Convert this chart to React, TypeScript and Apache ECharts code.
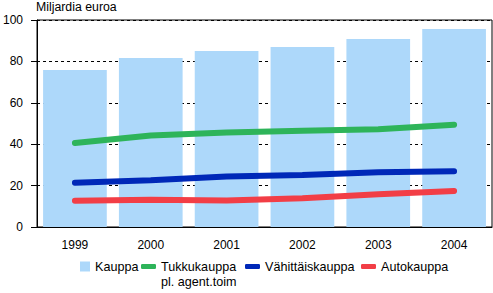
import React, { useEffect, useRef } from "react";
import * as echarts from "echarts";

const years = ["1999", "2000", "2001", "2002", "2003", "2004"];
const kauppa = [75.8, 81.6, 85.0, 87.0, 90.8, 95.7];
const tukkukauppa = [40.6, 44.2, 45.7, 46.5, 47.2, 49.4];
const vahittaiskauppa = [21.4, 22.6, 24.4, 25.1, 26.4, 26.9];
const autokauppa = [12.7, 13.2, 12.8, 13.9, 15.8, 17.4];
const yTicks = { min: 0, max: 100, interval: 20 };

const FONT = 'Arial, "Liberation Sans", sans-serif';
const C_BAR = "#ADD8FA";
const C_GREEN = "#2EB45A";
const C_BLUE = "#0028B8";
const C_RED = "#F23E46";

export default function App() {
  const ref = useRef<HTMLDivElement>(null);
  useEffect(() => {
    if (!ref.current) return;
    const chart = echarts.init(ref.current, undefined, { renderer: "svg" });
    const txt = { color: "#000", fontSize: 12, fontFamily: FONT };
    const legTxt = { ...txt, fontSize: 12.6 };
    const lineLegend = (name: string, left: number) => ({
      data: [{ name, icon: "roundRect" }],
      left,
      top: 260,
      padding: 0,
      itemWidth: 15,
      itemHeight: 5,
      textStyle: legTxt,
    });
    chart.setOption({
      animation: false,
      title: {
        text: "Miljardia euroa",
        left: 36,
        top: 1,
        padding: 0,
        textStyle: { ...txt, fontSize: 12.3, fontWeight: "normal" },
      },
      grid: {
        left: 36,
        right: 1,
        top: 20,
        bottom: 66,
        show: true,
        borderColor: "#000",
        borderWidth: 1,
        backgroundColor: "transparent",
      },
      legend: [
        {
          data: [{ name: "Kauppa", icon: "rect" }],
          left: 80,
          top: 260,
          padding: 0,
          itemWidth: 10,
          itemHeight: 10,
          textStyle: legTxt,
        },
        lineLegend("Tukkukauppa", 141),
        lineLegend("Vähittäiskauppa", 245),
        lineLegend("Autokauppa", 361),
      ],
      graphic: [
        {
          type: "text",
          left: 161,
          top: 275,
          style: { text: "pl. agent.toim", fill: "#000", font: `12.6px ${FONT}` },
        },
      ],
      xAxis: {
        type: "category",
        data: years,
        axisLine: { lineStyle: { color: "#000", width: 1 } },
        axisTick: { alignWithLabel: true, length: 7, lineStyle: { color: "#000" } },
        axisLabel: { ...txt, margin: 12 },
      },
      yAxis: {
        type: "value",
        min: yTicks.min,
        max: yTicks.max,
        interval: yTicks.interval,
        axisLine: { show: true, lineStyle: { color: "#000", width: 1 } },
        axisTick: { show: true, length: 6, lineStyle: { color: "#000" } },
        axisLabel: { ...txt, margin: 14 },
        splitLine: { lineStyle: { color: "#000", type: [3, 3], width: 1 } },
      },
      series: [
        {
          name: "Kauppa",
          type: "bar",
          data: kauppa,
          barCategoryGap: "16%",
          itemStyle: { color: C_BAR },
        },
        {
          name: "Tukkukauppa",
          type: "line",
          data: tukkukauppa,
          symbol: "none",
          color: C_GREEN,
          lineStyle: { color: C_GREEN, width: 6, cap: "round" },
          z: 3,
        },
        {
          name: "Vähittäiskauppa",
          type: "line",
          data: vahittaiskauppa,
          symbol: "none",
          color: C_BLUE,
          lineStyle: { color: C_BLUE, width: 6, cap: "round" },
          z: 3,
        },
        {
          name: "Autokauppa",
          type: "line",
          data: autokauppa,
          symbol: "none",
          color: C_RED,
          lineStyle: { color: C_RED, width: 6, cap: "round" },
          z: 3,
        },
      ],
    });
    return () => chart.dispose();
  }, []);
  return (
    <div
      ref={ref}
      style={{ position: "absolute", left: 0, top: 0, width: 493, height: 293, background: "#fff" }}
    />
  );
}
